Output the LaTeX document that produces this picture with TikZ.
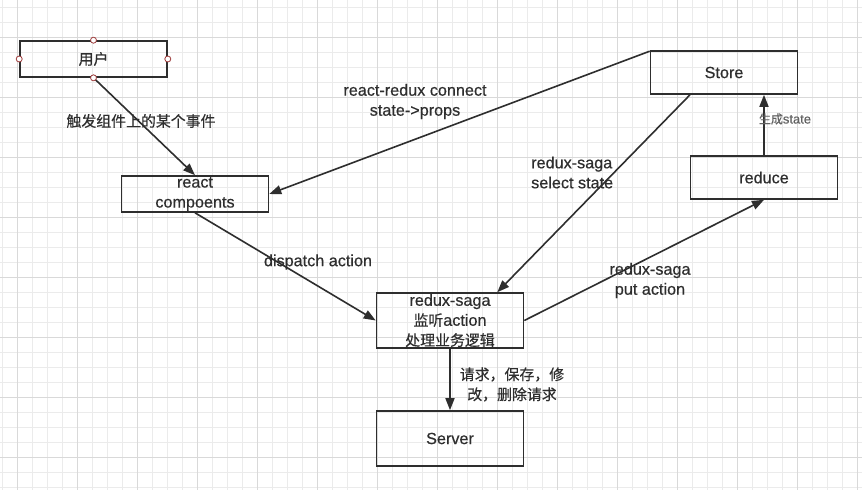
\documentclass[tikz,border=0pt]{standalone}
\usepackage{fontspec}
\setmainfont{Liberation Sans}[FakeBold=0.5]
\newfontfamily\cjk{Noto Sans CJK SC}[Scale=0.92,FakeBold=0.4]
\usetikzlibrary{arrows.meta}
\usetikzlibrary{positioning}
\definecolor{ink}{HTML}{2E2E2E}
\definecolor{gridminor}{HTML}{EBEBEB}
\definecolor{gridmajor}{HTML}{D9D9D9}
\definecolor{handlered}{HTML}{9E3B3B}
\def\mywidth{862}
\def\myheight{490}
\tikzset{
x=1pt,y=-1pt,
>={Triangle[length=12pt,width=9pt]},
my node/.style={font=\fontsize{16.2}{20}\selectfont,text=ink,align=center,inner sep=0pt},
my box/.style={draw=ink,line width=1.6pt,my node,rectangle,minimum height=36pt,minimum width=147pt},
tall/.style={minimum height=55pt},
mid/.style={minimum height=43pt},
flow/.style={draw=ink,line width=1.6pt,->},
small lbl/.style={my node,font=\fontsize{13}{15}\selectfont,text=ink!75},
handle/.style={circle,draw=handlered,fill=white,line width=0.8pt,inner sep=0pt,minimum size=6pt},
}
\begin{document}
\begin{tikzpicture}
\useasboundingbox (0,0) rectangle (\mywidth,\myheight);
\fill[white] (0,0) rectangle (\mywidth,\myheight);
% background grid
\foreach \x in {2,17,...,862} \draw[gridminor,line width=0.8pt] (\x,0) -- (\x,\myheight);
\foreach \y in {7,22,...,490} \draw[gridminor,line width=0.8pt] (0,\y) -- (\mywidth,\y);
\foreach \x in {17,77,...,862} \draw[gridmajor,line width=0.8pt] (\x,0) -- (\x,\myheight);
\foreach \y in {37,97,...,490} \draw[gridmajor,line width=0.8pt] (0,\y) -- (\mywidth,\y);
% boxes
\node[my box] (user) at (93.5,59) {\cjk 用户};
\node[my box] (react) at (195,194) {react\\compoents};
\node[my box,tall] (saga) at (450,320.5) {redux-saga\\{\cjk 监听}action\\{\cjk 处理业务逻辑}};
\node[my box,tall] (server) at (450,438.5) {Server};
\node[my box,mid] (store) at (724,72.5) {Store};
\node[my box,mid] (reduce) at (764,177.5) {reduce};
% connectors
\draw[flow] (user.south) -- (react.north);
\draw[flow] ([yshift=-1pt]store.north west) -- (react.east);
\draw[flow] ([xshift=-34pt]store.south) -- ([xshift=-27pt]saga.north east);
\draw[flow] (react.south) -- (saga.west);
\draw[flow] (saga.east) -- (reduce.south);
\draw[flow] (reduce.north) -- (reduce.north |- store.south);
\draw[flow] (saga.south) -- (server.north);
% labels
\node[my node] (fire) at (141,121) {\cjk 触发组件上的某个事件};
\node[my node] (connect) at (415,101.5) {react-redux connect\\state->props};
\node[my node,align=left,anchor=west] (select) at (531,172.5) {redux-saga\\select state};
\node[my node] (dispatch) at (318,262) {dispatch action};
\node[my node] (put) at (650,280.5) {redux-saga\\put action};
\node[small lbl] (gen) at (785,119) {{\cjk 生成}state};
\node[my node] (req) at (512,384.5) {{\cjk 请求，保存，修}\\{\cjk 改，删除请求}};
% handles on the selected box
\foreach \a in {north,south,east,west} \node[handle] at (user.\a) {};
\end{tikzpicture}
\end{document}
